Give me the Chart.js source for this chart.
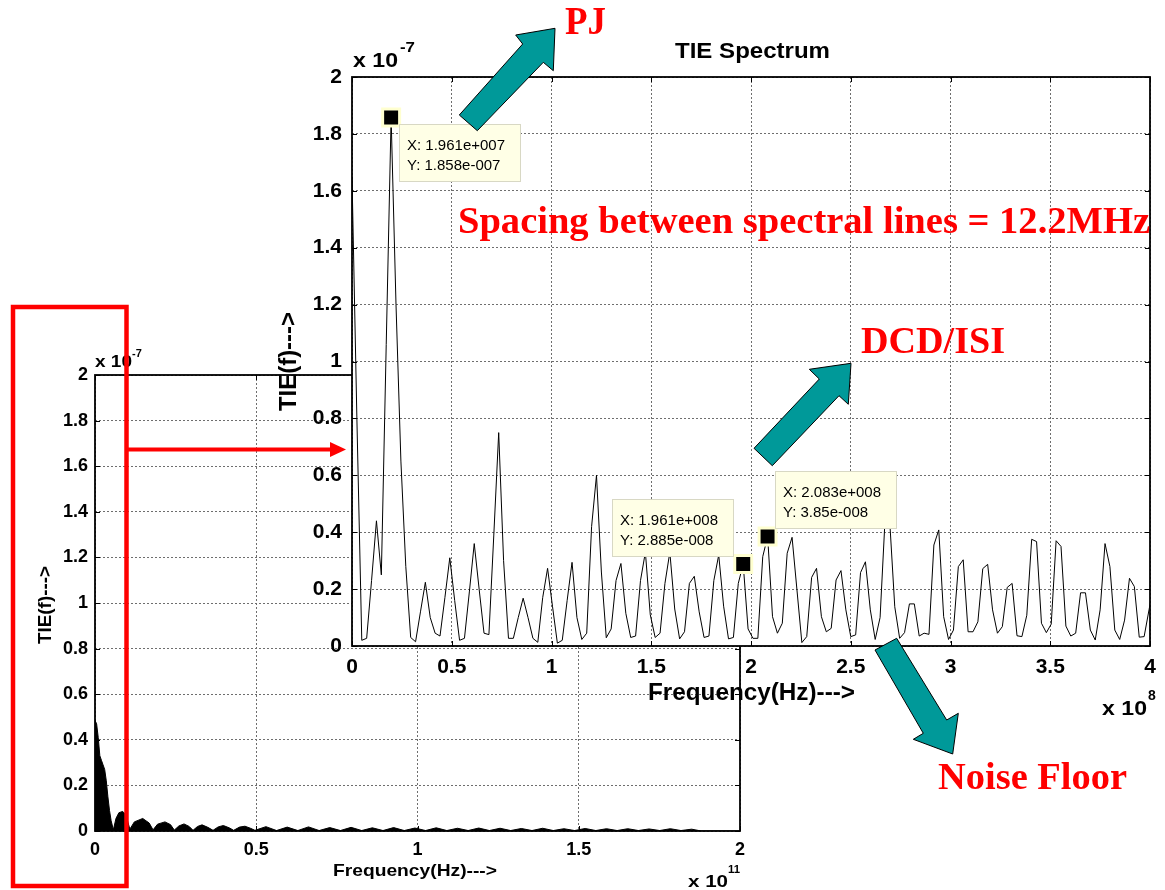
<!DOCTYPE html>
<html>
<head>
<meta charset="utf-8">
<title>TIE Spectrum</title>
<script src="https://cdn.jsdelivr.net/npm/chart.js"></script>
<style>
    html, body { margin: 0; padding: 0; background: #ffffff; }
    #stage { position: relative; width: 1165px; height: 890px; overflow: hidden; }
    #stage canvas, #stage svg { position: absolute; left: 0; top: 0; }
    .ax { font-family: 'Liberation Sans', Arial, sans-serif; font-weight: bold; fill: #000; }
    .red { font-family: 'Liberation Serif', 'Times New Roman', serif; font-weight: bold; fill: #ff0000; }
</style>
</head>
<body>
<div id="stage">
    <canvas id="wideChart" width="1165" height="890"></canvas>
    <canvas id="zoomChart" width="1165" height="890"></canvas>
    <svg width="1165" height="890" xmlns="http://www.w3.org/2000/svg">
        <!-- axis captions of the zoomed plot -->
        <text class="ax" x="675" y="58" font-size="22" textLength="155" lengthAdjust="spacingAndGlyphs">TIE Spectrum</text>
        <text class="ax" x="353" y="67" font-size="20" textLength="45" lengthAdjust="spacingAndGlyphs">x 10</text>
        <text class="ax" x="400" y="52" font-size="14" textLength="15" lengthAdjust="spacingAndGlyphs">-7</text>
        <text class="ax" transform="translate(296,411) rotate(-90)" font-size="24" textLength="99" lengthAdjust="spacingAndGlyphs">TIE(f)---&gt;</text>
        <text class="ax" x="648" y="700" font-size="24" textLength="207" lengthAdjust="spacingAndGlyphs">Frequency(Hz)---&gt;</text>
        <text class="ax" x="1102" y="715" font-size="20" textLength="45" lengthAdjust="spacingAndGlyphs">x 10</text>
        <text class="ax" x="1148" y="700" font-size="14">8</text>

        <!-- axis captions of the full-span plot -->
        <text class="ax" x="95" y="367" font-size="16" textLength="37" lengthAdjust="spacingAndGlyphs">x 10</text>
        <text class="ax" x="132" y="357" font-size="11">-7</text>
        <text class="ax" transform="translate(51,644) rotate(-90)" font-size="18" textLength="78" lengthAdjust="spacingAndGlyphs">TIE(f)---&gt;</text>
        <text class="ax" x="333" y="876" font-size="17" textLength="164" lengthAdjust="spacingAndGlyphs">Frequency(Hz)---&gt;</text>
        <text class="ax" x="688" y="887" font-size="16" textLength="40" lengthAdjust="spacingAndGlyphs">x 10</text>
        <text class="ax" x="728" y="873" font-size="11" textLength="12" lengthAdjust="spacingAndGlyphs">11</text>

        <!-- red zoom box and pointer -->
        <rect x="13" y="307" width="113.5" height="579" fill="none" stroke="#ff0000" stroke-width="4.5"/>
        <line x1="128" y1="449.5" x2="332" y2="449.5" stroke="#ff0000" stroke-width="4"/>
        <polygon points="330,442 346,449.5 330,457" fill="#ff0000"/>

        <!-- teal callout arrows -->
        <polygon points="459.3,115 522.7,44 515.7,35 555,28.3 553.3,70.7 543.3,62.3 477.3,130.7"
                 fill="#009999" stroke="#000" stroke-width="1"/>
        <polygon points="754,448.3 819.3,379 809.3,369.3 851,363.3 848.3,404.3 839,395.7 772.3,465.7"
                 fill="#009999" stroke="#000" stroke-width="1"/>
        <polygon points="875,650 923.3,733.3 913.3,739.3 952.7,754 958.3,713.3 946.7,720 896.7,638.3"
                 fill="#009999" stroke="#000" stroke-width="1"/>

        <!-- red annotations -->
        <text class="red" x="565" y="34" font-size="40" textLength="41" lengthAdjust="spacingAndGlyphs">PJ</text>
        <text class="red" x="458" y="233" font-size="37" textLength="692" lengthAdjust="spacingAndGlyphs">Spacing between spectral lines = 12.2MHz</text>
        <text class="red" x="861" y="353" font-size="37" textLength="144" lengthAdjust="spacingAndGlyphs">DCD/ISI</text>
        <text class="red" x="938" y="789" font-size="37" textLength="189" lengthAdjust="spacingAndGlyphs">Noise Floor</text>
    </svg>
</div>

<script>
// ================= Data =================
// Zoomed spectrum: one value per FFT bin, TIE in units of 1e-8 s
const binStepE8 = 0.02451; // bin width, x 1e8 Hz (1.961e7 / 8)
const zoomTieE8 = [
    16.5, 8.0, 0.2, 0.27, 2.3, 4.4, 2.5, 10.6, 18.58, 12.0,
    6.5, 2.8, 0.3, 0.15, 1.2, 2.24, 1.0, 0.45, 0.35, 1.7,
    3.1, 1.6, 0.2, 0.27, 1.9, 3.6, 2.0, 0.45, 0.4, 3.9,
    7.5, 3.0, 0.27, 0.27, 1.0, 1.68, 1.0, 0.27, 0.13, 1.7,
    2.73, 1.4, 0.1, 0.2, 1.6, 2.94, 1.0, 0.23, 0.45, 4.2,
    6.0, 2.6, 0.29, 0.6, 2.3, 2.9, 1.15, 0.3, 0.35, 2.3,
    3.3, 1.1, 0.3, 0.45, 2.2, 3.3, 1.3, 0.25, 0.5, 2.2,
    2.45, 1.2, 0.3, 0.35, 2.3, 3.2, 1.4, 0.25, 0.3, 2.2,
    2.885, 0.6, 0.27, 0.27, 3.14, 3.85, 1.03, 0.45, 0.8, 3.26,
    3.82, 1.97, 0.12, 0.33, 2.41, 2.73, 1.03, 0.5, 0.62, 2.32,
    2.65, 1.27, 0.33, 0.39, 2.58, 2.96, 1.27, 0.23, 1.0, 4.4,
    4.3, 1.38, 0.27, 0.47, 1.48, 1.48, 0.35, 0.45, 0.41, 3.55,
    4.08, 1.03, 0.23, 0.56, 2.79, 3.03, 0.5, 0.5, 0.85, 2.72,
    2.87, 1.27, 0.45, 0.68, 2.06, 2.2, 0.36, 0.33, 1.08, 3.75,
    3.67, 0.8, 0.47, 0.77, 3.7, 3.5, 0.7, 0.35, 0.45, 1.87,
    1.87, 0.56, 0.21, 1.27, 3.6, 2.79, 0.56, 0.23, 0.91, 2.38,
    2.09, 0.31, 0.33, 1.27, 2.2
];

// Full-span spectrum envelope: frequency in GHz, TIE in units of 1e-8 s
const wideFreqGHz = [
    0, 0.5, 1.0, 1.5, 2.0, 2.5, 3.0, 3.5, 4.0, 4.5, 5.0, 5.7,
    6.5, 7.4, 8.6, 9.6, 10.8,
    12.2, 14.8, 16.8, 18.0,
    19.4, 21.7, 23.4, 24.6,
    26.0, 27.6, 29.2, 30.4,
    31.8, 33.2, 35.0, 36.6,
    38.2, 39.8, 41.6, 43.0,
    44.8, 46.5, 48.2, 49.6,
    53.0, 56.3, 59.6, 62.9, 66.2, 69.5, 72.8, 76.1, 79.4, 82.7,
    86.0, 89.3, 92.6, 95.9, 99.2, 102.5, 105.8, 109.1, 112.4, 115.7,
    119.0, 122.3, 125.6, 128.9, 132.2, 135.5, 138.8, 142.1, 145.4, 148.7,
    152.0, 155.3, 158.6, 161.9, 165.2, 168.5, 171.8, 175.1, 178.4, 181.7,
    185.0, 188.0, 200.0
];
const wideTieE8 = [
    4.85, 4.7, 4.1, 3.3, 3.1, 2.9, 2.7, 2.2, 1.5, 0.9, 0.45, 0.05,
    0.55, 0.8, 0.86, 0.7, 0.08,
    0.4, 0.55, 0.35, 0.05,
    0.3, 0.4, 0.28, 0.04,
    0.22, 0.31, 0.2, 0.03,
    0.2, 0.27, 0.16, 0.03,
    0.18, 0.24, 0.14, 0.03,
    0.17, 0.21, 0.12, 0.03,
    0.19, 0.02, 0.17, 0.02, 0.18, 0.02, 0.15, 0.02, 0.16, 0.02,
    0.14, 0.02, 0.15, 0.02, 0.13, 0.02, 0.14, 0.02, 0.12, 0.02,
    0.13, 0.02, 0.12, 0.02, 0.11, 0.02, 0.12, 0.02, 0.10, 0.02,
    0.11, 0.02, 0.10, 0.02, 0.10, 0.02, 0.09, 0.02, 0.10, 0.02,
    0.08, 0, 0
];

// Data tips
const tipFreqE8 = [0.1961, 1.961, 2.083];
const tipTieE7 = [1.858, 0.2885, 0.385];
const tipTextX = ['X: 1.961e+007', 'X: 1.961e+008', 'X: 2.083e+008'];
const tipTextY = ['Y: 1.858e-007', 'Y: 2.885e-008', 'Y: 3.85e-008'];

// Axis ticks
const zoomXTicks = { min: 0, max: 4, step: 0.5 };    // x 1e8 Hz
const wideXTicks = { min: 0, max: 2, step: 0.5 };    // x 1e11 Hz
const yTicks = { min: 0, max: 2, step: 0.2 };        // x 1e-7 s

// ================= Styling =================
const sansFont = "'Liberation Sans', Arial, sans-serif";
const gridStyle = { color: '#6e6e6e', lineWidth: 1, drawTicks: false };
const tipBox = { w: 121, h: 57, offsets: [[8, 7], [-131, -65], [7, -65]] };

const fmtTick = v => String(+v.toFixed(1));

// white plot area, box outline and inward tick marks (MATLAB look)
const axesBoxPlugin = {
    id: 'axesBox',
    beforeDraw(chart, args, opts) {
        if (!opts.fill) return;
        const a = chart.chartArea;
        const ctx = chart.ctx;
        ctx.save();
        ctx.fillStyle = '#ffffff';
        ctx.fillRect(a.left, a.top, a.right - a.left, a.bottom - a.top);
        ctx.restore();
    },
    afterDraw(chart) {
        const a = chart.chartArea;
        const ctx = chart.ctx;
        const { x, y } = chart.scales;
        ctx.save();
        ctx.strokeStyle = '#000000';
        ctx.lineWidth = 1;
        ctx.beginPath();
        x.ticks.forEach(t => {
            const px = Math.round(x.getPixelForValue(t.value)) + 0.5;
            ctx.moveTo(px, a.bottom); ctx.lineTo(px, a.bottom - 5);
            ctx.moveTo(px, a.top); ctx.lineTo(px, a.top + 5);
        });
        y.ticks.forEach(t => {
            const py = Math.round(y.getPixelForValue(t.value)) + 0.5;
            ctx.moveTo(a.left, py); ctx.lineTo(a.left + 5, py);
            ctx.moveTo(a.right, py); ctx.lineTo(a.right - 5, py);
        });
        ctx.stroke();
        ctx.lineWidth = 1.8;
        ctx.strokeRect(a.left, a.top, a.right - a.left, a.bottom - a.top);
        ctx.restore();
    }
};

// data tip boxes next to the marked points
const dataTipPlugin = {
    id: 'dataTips',
    afterDatasetsDraw(chart) {
        const ctx = chart.ctx;
        const { x, y } = chart.scales;
        ctx.save();
        tipFreqE8.forEach((f, i) => {
            const px = x.getPixelForValue(f);
            const py = y.getPixelForValue(tipTieE7[i]);
            const left = Math.round(px + tipBox.offsets[i][0]) + 0.5;
            const top = Math.round(py + tipBox.offsets[i][1]) + 0.5;
            ctx.fillStyle = '#ffffe6';
            ctx.strokeStyle = '#d8d8c4';
            ctx.lineWidth = 1;
            ctx.fillRect(left, top, tipBox.w, tipBox.h);
            ctx.strokeRect(left, top, tipBox.w, tipBox.h);
            ctx.fillStyle = '#000000';
            ctx.font = '15px ' + sansFont;
            ctx.textBaseline = 'alphabetic';
            ctx.fillText(tipTextX[i], left + 7.5, top + 25);
            ctx.fillText(tipTextY[i], left + 7.5, top + 45);
        });
        ctx.restore();
    }
};

function linearAxis(range, fontSize, fitFn, pad) {
    return {
        type: 'linear',
        min: range.min,
        max: range.max,
        grid: gridStyle,
        border: { display: false, dash: [2, 2] },
        ticks: {
            stepSize: range.step,
            padding: pad,
            color: '#000000',
            font: { family: sansFont, size: fontSize, weight: 'bold' },
            callback: fmtTick
        },
        afterFit: fitFn
    };
}

// ================= Full-span chart (background) =================
const widePoints = wideFreqGHz.map((f, i) => ({ x: f / 100, y: wideTieE8[i] / 10 }));

new Chart(document.getElementById('wideChart'), {
    type: 'line',
    data: {
        datasets: [{
            data: widePoints,
            borderColor: '#000000',
            backgroundColor: '#000000',
            borderWidth: 1,
            pointRadius: 0,
            tension: 0,
            fill: 'origin'
        }]
    },
    options: {
        responsive: false,
        animation: false,
        events: [],
        devicePixelRatio: 1,
        layout: { padding: { left: 0, top: 375, right: 425, bottom: 0 } },
        plugins: { legend: { display: false }, tooltip: { enabled: false }, axesBox: { fill: false } },
        scales: {
            x: linearAxis(wideXTicks, 18, s => { s.height = 890 - 831; }, 8),
            y: linearAxis(yTicks, 18, s => { s.width = 95; }, 7)
        }
    },
    plugins: [axesBoxPlugin]
});

// ================= Zoomed chart (foreground) =================
const zoomPoints = zoomTieE8.map((v, k) => ({ x: k * binStepE8, y: v / 10 }));
const tipPoints = tipFreqE8.map((f, i) => ({ x: f, y: tipTieE7[i] }));

new Chart(document.getElementById('zoomChart'), {
    type: 'line',
    data: {
        datasets: [
            {
                data: zoomPoints,
                borderColor: '#000000',
                borderWidth: 1,
                pointRadius: 0,
                tension: 0,
                fill: false,
                order: 2
            },
            {
                data: tipPoints,
                showLine: false,
                pointStyle: 'rect',
                pointRadius: 12,
                pointBackgroundColor: '#000000',
                pointBorderColor: '#ffffd0',
                pointBorderWidth: 3,
                order: 1
            }
        ]
    },
    options: {
        responsive: false,
        animation: false,
        events: [],
        devicePixelRatio: 1,
        layout: { padding: { left: 300, top: 77, right: 7, bottom: 0 } },
        plugins: { legend: { display: false }, tooltip: { enabled: false }, axesBox: { fill: true } },
        scales: {
            x: linearAxis(zoomXTicks, 21, s => { s.height = 890 - 646; }, 9),
            y: linearAxis(yTicks, 21, s => { s.width = 52; }, 10)
        }
    },
    plugins: [axesBoxPlugin, dataTipPlugin]
});
</script>
</body>
</html>
